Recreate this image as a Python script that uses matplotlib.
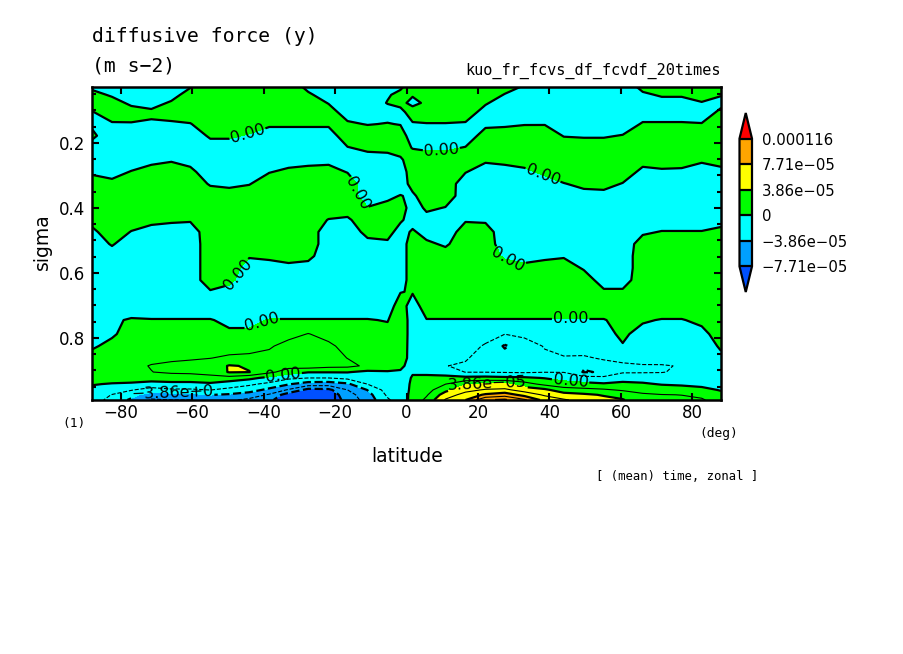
import numpy as np
import matplotlib
matplotlib.use("Agg")
import matplotlib.pyplot as plt
from matplotlib.ticker import MultipleLocator

# -------------------- DATA --------------------
latitude = [-88.0, -82.4, -77.0, -71.4, -65.8, -60.5, -54.9, -49.6, -44.0, -38.4, -33.0, -27.5,
            -21.8, -16.5, -10.9, -5.3, -1.7, 1.7, 5.6, 10.9, 16.5, 22.1, 27.5, 33.0,
            38.7, 44.0, 49.6, 55.2, 60.5, 66.1, 71.4, 77.0, 82.6, 88.0]

sigma = [0.028, 0.052, 0.077, 0.105, 0.142, 0.178, 0.215, 0.252, 0.289, 0.326, 0.363,
         0.400, 0.437, 0.474, 0.511, 0.548, 0.585, 0.622, 0.658, 0.702, 0.745, 0.788,
         0.825, 0.862, 0.886, 0.905, 0.923, 0.942, 0.960, 0.975, 0.991]

# force in 1e-6 m s-2, one line per latitude, top of the model first
force = [
    [-3, 5, 9, -1, -3, 4, -8, -12, -3, 9, 12, 12, 7, -5, -12, -12, -12, -12, -12, -12, -12, -12, -2, 5, 6, 6, 5, 1, -4, -7, -10],
    [-10, -2, 6, 10, -2, -12, -12, -12, -7, 5, 12, 12, 12, 12, 2, -10, -12, -12, -12, -12, -3, -2, 4, 8, 10, 10, 7, -1, -10, -20, -26],
    [-12, -11, -3, 6, -1, -12, -12, -11, 1, 12, 12, 12, 11, -1, -12, -12, -12, -12, -12, -12, 2, 6, 10, 13, 16, 18, 10, -3, -18, -32, -42],
    [-12, -12, -6, 3, -2, -12, -12, -5, 7, 12, 12, 12, 5, -7, -12, -12, -12, -12, -12, -12, 1, 7, 11, 16, 20, 19, 8, -6, -28, -49, -60],
    [-12, -6, 2, 9, -3, -12, -12, -2, 10, 12, 12, 12, 3, -9, -12, -12, -12, -12, -12, -12, 1, 7, 12, 17, 22, 22, 10, -5, -22, -47, -58],
    [-1, 7, 12, 12, -1, -12, -12, -7, 5, 12, 12, 12, 2, -10, -12, -12, -12, -12, -12, -12, 1, 7, 13, 18, 23, 23, 10, -5, -22, -46, -58],
    [12, 12, 12, 12, 12, 3, -9, -12, -12, -2, 10, 12, 12, 12, 12, 12, 12, 12, -2, -12, 1, 8, 14, 19, 28, 26, 13, -3, -19, -38, -50],
    [12, 12, 12, 12, 12, 3, -9, -12, -12, -4, 8, 12, 12, 12, 12, 12, 12, 5, -7, -12, -4, 3, 12, 22, 40, 40, 12, -10, -24, -41, -55],
    [12, 12, 12, 12, 10, -2, -12, -12, -12, -1, 11, 12, 12, 12, 12, 2, -10, -12, -12, -12, -4, 3, 13, 23, 37, 39, 5, -16, -30, -48, -62],
    [12, 12, 12, 12, 3, -9, -12, -12, -1, 11, 12, 12, 12, 12, 12, 4, -8, -12, -12, -12, 1, 8, 17, 25, 26, 24, -5, -24, -44, -60, -72],
    [12, 12, 12, 12, 3, -9, -12, -8, 4, 12, 12, 12, 12, 12, 12, 7, -5, -12, -12, -12, 1, 13, 26, 27, 26, 10, -15, -37, -60, -88, -95],
    [-5, 3, 11, 12, 3, -9, -12, -6, 6, 12, 12, 12, 12, 12, 12, 5, -7, -12, -12, -12, 1, 20, 27, 28, 30, 1, -19, -48, -84, -92, -95],
    [-12, -9, -1, 8, 3, -9, -12, -5, 7, 12, 12, 12, -1, -12, -12, -12, -12, -12, -12, -12, 1, 13, 23, 26, 25, 1, -19, -49, -82, -90, -92],
    [-12, -12, -12, -9, 3, 11, -1, -12, -1, 11, 12, 9, -3, -12, -12, -12, -12, -12, -12, -12, 1, 8, 13, 19, 24, 1, -14, -42, -58, -66, -70],
    [-12, -12, -12, -12, -1, 12, 4, -8, -12, -12, -11, 1, 12, 6, -6, -12, -12, -12, -12, -12, 1, 6, 10, 13, 16, -4, -10, -19, -38, -46, -50],
    [-10, -2, 1, -8, 1, 12, 5, -7, -12, -12, -5, 7, 12, 8, -4, -12, -12, -12, -12, -12, -1, 6, 10, 10, 6, -1, -4, -7, -11, -16, -22],
    [-3, 5, 3, -3, -1, 11, 9, -3, -12, -12, 1, 12, 3, -9, -12, -12, -12, -12, -1, 12, 14, 14, 13, 12, 4, -2, -6, -6, -7, -9, -10],
    [10, 1, -3, 5, -1, -12, -1, 11, 12, 8, -4, -12, -9, 3, 12, 12, 12, 12, 2, -12, -10, -10, -10, -10, -8, -1, 1, 2, 3, 5, 6],
    [12, 6, 2, 12, -1, -12, -3, 9, 12, 12, 12, 4, -8, -8, 4, 12, 12, 12, 12, 12, -1, -7, -9, -9, -7, -3, 3, 8, 12, 17, 24],
    [12, 12, 12, 12, -1, -12, -3, 9, 12, 12, 12, -1, -12, -12, -3, 9, 12, 12, 12, 12, -1, -7, -10, -14, -19, -6, 4, 19, 33, 48, 60],
    [12, 12, 12, 10, -2, -11, 1, 12, 1, -11, -12, -12, -2, 10, 12, 12, 12, 12, 12, 12, -1, -8, -13, -18, -21, -20, 5, 36, 52, 65, 77],
    [12, 10, 2, -7, -4, 8, 12, 3, -9, -12, -12, -12, -3, 9, 12, 12, 12, 12, 12, 12, -1, -13, -21, -25, -27, -20, 6, 40, 60, 80, 114],
    [7, -1, -9, -12, -3, 9, 12, 5, -7, -12, -12, -12, -12, -12, -12, -3, 9, 12, 12, 12, -1, -19, -41, -30, -28, -21, 4, 42, 62, 88, 118],
    [-2, -10, -12, -12, -1, 11, 12, 8, -4, -12, -12, -12, -12, -12, -12, -7, 5, 12, 12, 12, -1, -15, -28, -28, -27, -22, 3, 27, 50, 70, 100],
    [-12, -12, -12, -12, -1, 12, 12, 12, 4, -8, -12, -12, -12, -12, -12, -4, 8, 12, 12, 12, -1, -7, -18, -23, -24, -20, -1, 14, 43, 55, 70],
    [-12, -12, -12, -12, -11, -1, 12, 12, 12, -1, -12, -12, -12, -12, -12, -2, 10, 12, 12, 12, -1, -5, -11, -21, -24, -20, -8, 9, 27, 47, 60],
    [-12, -12, -12, -12, -12, -2, 10, 12, 12, 5, -7, -12, -12, -12, -12, -12, -2, 10, 12, 12, -1, -4, -9, -22, -36, -40, -12, 5, 25, 42, 52],
    [-12, -12, -12, -12, -12, -2, 10, 12, 12, 6, -6, -12, -12, -12, -12, -12, -12, -9, 3, 12, -1, -5, -10, -17, -27, -37, -14, 2, 22, 37, 44],
    [-12, -12, -12, -12, -11, 1, 12, 12, 11, -1, -12, -12, -12, -12, -12, -12, -12, -9, 3, 12, 6, 3, -1, -12, -24, -21, -9, 5, 17, 32, 40],
    [5, -3, -11, -10, 2, 12, 12, 7, -5, -12, -12, -12, -12, -3, 9, 12, 12, 12, 12, 12, 2, -6, -8, -11, -21, -21, -7, 2, 13, 22, 27],
    [10, 2, -6, -10, 2, 12, 12, 9, -3, -12, -12, -12, -11, 1, 12, 12, 12, 12, 12, 12, -1, -5, -7, -10, -21, -20, -12, -1, 8, 20, 25],
    [10, 2, -6, -10, 2, 12, 12, 9, -4, -12, -12, -12, -11, 1, 12, 12, 12, 12, 12, 12, -1, -5, -7, -9, -18, -17, -7, -2, 6, 19, 23],
    [12, 7, -1, -11, 1, 12, 12, 3, -9, -12, -12, -12, -11, 1, 12, 12, 12, 12, 12, 12, 4, -5, -8, -9, -10, -9, -7, -4, 4, 14, 22],
    [9, 1, -5, 4, 12, 12, 12, 7, -5, -12, -12, -12, -7, 5, 12, 12, 12, 12, 12, 12, 14, 8, 2, -3, -6, -6, -6, -4, -1, 4, 8],
]

shade_levels = [-7.71e-5, -3.86e-5, 0, 3.86e-5, 7.71e-5, 1.16e-4]
shade_labels = ["\u22127.71e\u221205", "\u22123.86e\u221205", "0", "3.86e\u221205", "7.71e\u221205", "0.000116"]
shade_colors = ["#0050ff", "#00a0ff", "#00ffff", "#00ff00", "#ffff00", "#ffa500", "#ff0000"]
thin_levels = [-5.79e-5, -1.93e-5, 1.93e-5, 5.79e-5, 9.64e-5]
thick_levels = [-7.71e-5, 7.71e-5, 1.16e-4]

W, H = 904, 654
MONO = "DejaVu Sans Mono"


# -------------------- HELPERS --------------------
def put_text(x, y, s, size, family=MONO, ha="left", rotation=0):
    # x, y are pixels from the top left of the figure
    plt.gcf().text(x / W, 1 - y / H, s, fontsize=size, family=family, ha=ha, va="center", rotation=rotation)


def label_pos(x, y):
    # pixel on the plot to (latitude, sigma)
    return ((x - 406) / 3.57, (y - 143) / 325 + 0.2)


def thick_contour(ax, x, y, z, levels):
    return ax.contour(x, y, z, levels=levels, colors="k", linewidths=1.6)


# -------------------- PLOT --------------------
z = np.array(force, dtype=float).T * 1e-6

fig = plt.figure(figsize=(W / 100, H / 100), dpi=100)
ax = fig.add_axes([92 / W, 1 - 400 / H, (721 - 92) / W, (400 - 87) / H])

cf = ax.contourf(latitude, sigma, z, levels=shade_levels, colors=shade_colors, extend="both")
ax.contour(latitude, sigma, z, levels=thin_levels, colors="k", linewidths=0.8)
thick_contour(ax, latitude, sigma, z, thick_levels)

# limits first, the label angles depend on the flipped sigma axis
ax.set_xlim(-88, 88)
ax.set_ylim(0.991, 0.028)

# each labelled level gets its own contour set, clabel picks the nearest line in the set
cs_zero = thick_contour(ax, latitude, sigma, z, [0])
cs_pos = thick_contour(ax, latitude, sigma, z, [3.86e-5])
cs_neg = thick_contour(ax, latitude, sigma, z, [-3.86e-5])

zero_pos = [label_pos(247, 133), label_pos(441, 150), label_pos(542, 176), label_pos(358, 193),
            label_pos(232, 272), label_pos(508, 255), label_pos(262, 323), label_pos(570, 323),
            label_pos(283, 376), label_pos(570, 380)]
ax.clabel(cs_zero, fmt="%.2f", fontsize=11.5, manual=zero_pos, inline_spacing=1)
ax.clabel(cs_pos, fmt={3.86e-5: "3.86e\u221205"}, fontsize=11.5, manual=[label_pos(487, 386)], inline_spacing=1)
ax.clabel(cs_neg, fmt={-3.86e-5: "\u22123.86e+0"}, fontsize=11.5, manual=[label_pos(172, 393)], inline_spacing=1)

ax.set_xticks(range(-80, 81, 20))
ax.set_xticklabels([str(v).replace("-", "\u2212") for v in range(-80, 81, 20)], fontsize=12)
ax.set_yticks([0.2, 0.4, 0.6, 0.8])
ax.set_yticklabels(["0.2", "0.4", "0.6", "0.8"], fontsize=12)
ax.yaxis.set_minor_locator(MultipleLocator(0.05))
ax.tick_params(which="major", direction="in", length=5, width=1.5, top=True, right=True)
ax.tick_params(which="minor", direction="in", length=2.7, width=1.5, left=True, right=True)
ax.tick_params(axis="x", which="major", pad=3)
ax.tick_params(axis="y", which="major", pad=5)
for spine in ax.spines.values():
    spine.set_linewidth(1.8)

# colour bar, the axes holds the two end triangles as well
cax = fig.add_axes([739.5 / W, 1 - 292 / H, 12.5 / W, (292 - 113) / H])
cb = fig.colorbar(cf, cax=cax, extend="both", extendfrac=0.2, drawedges=True)
cb.set_ticks(shade_levels)
cb.set_ticklabels(shade_labels, fontsize=10.7)
cb.ax.tick_params(length=0, pad=7)
cb.outline.set_linewidth(1.6)
cb.dividers.set_linewidth(1.6)

put_text(92, 37, "diffusive force (y)", 14.2)
put_text(92, 66, "(m s\u22122)", 14.2)
put_text(721, 71, "kuo_fr_fcvs_df_fcvdf_20times", 11, ha="right")
put_text(62, 423, "(1)", 9.3)
put_text(699, 433, "(deg)", 9.3)
put_text(407, 456, "latitude", 13.5, family="DejaVu Sans", ha="center")
put_text(42, 242, "sigma", 13.5, family="DejaVu Sans", ha="center", rotation=90)
put_text(596, 477, "[ (mean) time, zonal ]", 8.8)

fig.savefig("out.png", dpi=100)
